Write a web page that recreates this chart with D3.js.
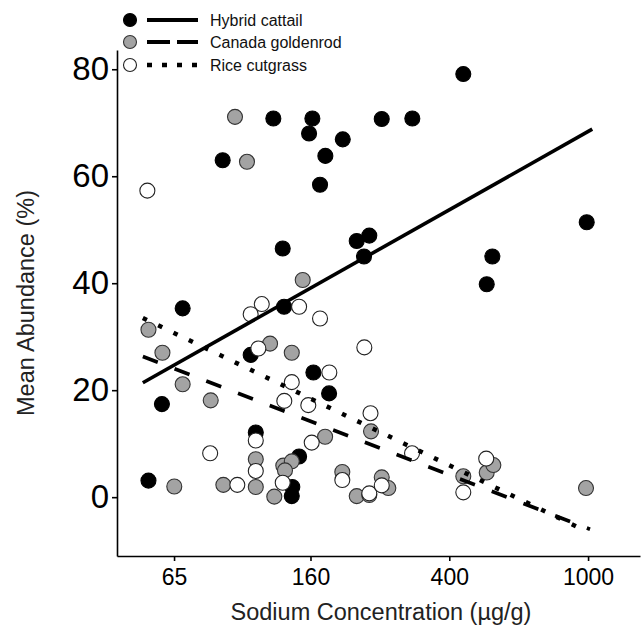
<!DOCTYPE html>
<html>
<head>
<meta charset="utf-8">
<script src="https://cdn.jsdelivr.net/npm/d3@7/dist/d3.min.js"></script>
<style>
  html, body { margin: 0; padding: 0; background: #fff; }
  svg { display: block; font-family: "Liberation Sans", Arial, Helvetica, sans-serif; }
</style>
</head>
<body>
<svg id="chart" width="642" height="636"></svg>
<script>
// ---- Data ----
const xTicks = [65, 160, 400, 1000];
const yTicks = [0, 20, 40, 60, 80];

const seriesNames = ["Hybrid cattail", "Canada goldenrod", "Rice cutgrass"];

// [sodium concentration (µg/g), mean abundance (%)]
const hybridCattail = [
  [54.9, 3.1], [60.0, 17.4], [68.8, 35.3], [89.6, 63.0], [125.2, 70.8],
  [162.0, 70.8], [158.5, 68.0], [176.5, 63.8], [198.0, 66.9], [170.4, 58.4],
  [133.2, 46.5], [256.1, 70.7], [313.4, 70.8], [438.8, 79.1], [217.1, 47.9],
  [235.9, 48.9], [227.8, 45.0], [991.1, 51.4], [531.6, 45.0], [512.2, 39.8],
  [134.4, 35.6], [107.8, 26.6], [163.1, 23.3], [180.9, 19.4], [111.5, 12.1],
  [148.4, 7.6], [141.9, 1.9], [141.4, 0.2]
];
const canadaGoldenrod = [
  [54.9, 31.3], [60.2, 27.0], [68.8, 21.1], [82.8, 18.1], [65.1, 2.0],
  [90.0, 2.3], [97.2, 71.1], [105.2, 62.7], [152.0, 40.6], [122.5, 28.7],
  [141.4, 27.0], [176.2, 11.3], [111.5, 7.1], [111.5, 1.9], [133.7, 5.9],
  [141.4, 6.7], [135.2, 5.0], [126.0, 0.1], [197.4, 4.7], [217.1, 0.2],
  [235.9, 0.4], [256.1, 3.7], [267.5, 1.7], [238.6, 12.3], [438.8, 3.9],
  [512.2, 4.6], [535.1, 6.0], [986.5, 1.7]
];
const riceCutgrass = [
  [54.5, 57.3], [82.5, 8.2], [98.7, 2.3], [116.0, 36.1], [107.8, 34.2],
  [148.4, 35.6], [170.4, 33.4], [113.4, 27.8], [228.3, 28.0], [181.2, 23.3],
  [141.4, 21.5], [134.6, 18.0], [157.7, 17.2], [161.3, 10.2], [111.5, 10.6],
  [111.5, 4.9], [133.2, 2.7], [197.4, 3.2], [237.8, 15.7], [235.9, 0.7],
  [256.1, 2.2], [312.8, 8.2], [510.5, 7.2], [438.8, 0.9]
];

// fitted trend lines: [x start, y start, x end, y end]
const hybridFit = [52.9, 21.4, 1028, 68.8];
const goldenrodFit = [52.9, 26.3, 1013, -6.0];
const riceFit = [52.9, 33.5, 991, -6.4];

// ---- Styles ----
const fills = ["#000000", "#a3a3a3", "#ffffff"];
const strokes = ["#000000", "#333333", "#222222"];
const dashes = [null, "16,18", "4.5,12.5"];
const legendDashes = [null, "23,7", "5,10"];
const lineWidths = [3.6, 3.6, 4.5];

(function () {
const svg = d3.select("#chart");
const pLeft = 117, pRight = 640, pTop = 50, pBottom = 556;

const x = d3.scaleLog().domain([44.6, 1409]).range([pLeft, pRight]);
const y = d3.scaleLinear().domain([-11.0, 83.6]).range([pBottom, pTop]);

// ---- Axes ----
const yAxis = svg.append("g")
  .attr("transform", `translate(${pLeft},0)`)
  .call(d3.axisLeft(y).tickValues(yTicks).tickSize(5).tickSizeOuter(0).tickPadding(3));
yAxis.selectAll("text").attr("font-size", 33).attr("fill", "#000")
  .attr("font-family", "'Liberation Sans', Arial, sans-serif");
yAxis.selectAll("line, path").attr("stroke", "#000").attr("stroke-width", 1.6);

const xAxis = svg.append("g")
  .attr("transform", `translate(0,${pBottom})`)
  .call(d3.axisBottom(x).tickValues(xTicks).tickFormat(d3.format("d")).tickSize(5).tickSizeOuter(0).tickPadding(8));
xAxis.selectAll("text").attr("font-size", 23).attr("fill", "#000")
  .attr("font-family", "'Liberation Sans', Arial, sans-serif");
xAxis.selectAll("line, path").attr("stroke", "#000").attr("stroke-width", 1.6);

// axis titles
svg.append("text")
  .attr("x", 381)
  .attr("y", 620)
  .attr("text-anchor", "middle")
  .attr("font-size", 23.5)
  .attr("fill", "#222")
  .text("Sodium Concentration (µg/g)");

svg.append("text")
  .attr("transform", `translate(34,${(pTop + pBottom) / 2}) rotate(-90)`)
  .attr("text-anchor", "middle")
  .attr("font-size", 23.5)
  .attr("fill", "#222")
  .text("Mean Abundance (%)");

// ---- Points ----
const allSeries = [hybridCattail, canadaGoldenrod, riceCutgrass];
allSeries.forEach((data, i) => {
  svg.append("g").selectAll("circle")
    .data(data)
    .join("circle")
    .attr("cx", d => x(d[0]))
    .attr("cy", d => y(d[1]))
    .attr("r", 7.5)
    .attr("fill", fills[i])
    .attr("stroke", strokes[i])
    .attr("stroke-width", 1.1);
});

// ---- Trend lines ----
const fits = [hybridFit, goldenrodFit, riceFit];
const lineGen = d3.line().x(d => x(d[0])).y(d => y(d[1]));
fits.forEach((f, i) => {
  svg.append("path")
    .attr("d", lineGen([[f[0], f[1]], [f[2], f[3]]]))
    .attr("fill", "none")
    .attr("stroke", "#000")
    .attr("stroke-width", lineWidths[i])
    .attr("stroke-dasharray", dashes[i]);
});

// ---- Legend ----
const legendY = [20, 42, 65];
const lg = svg.append("g");
seriesNames.forEach((name, i) => {
  const yy = legendY[i];
  lg.append("circle")
    .attr("cx", 130).attr("cy", yy).attr("r", 6.5)
    .attr("fill", fills[i]).attr("stroke", strokes[i]).attr("stroke-width", 1.1);
  lg.append("line")
    .attr("x1", 147).attr("x2", 198).attr("y1", yy).attr("y2", yy)
    .attr("stroke", "#000").attr("stroke-width", i === 2 ? 4.5 : 3.8)
    .attr("stroke-dasharray", legendDashes[i]);
  lg.append("text")
    .attr("x", 210).attr("y", yy + 6)
    .attr("font-size", 16).attr("fill", "#111")
    .text(name);
});
})();
</script>
</body>
</html>
